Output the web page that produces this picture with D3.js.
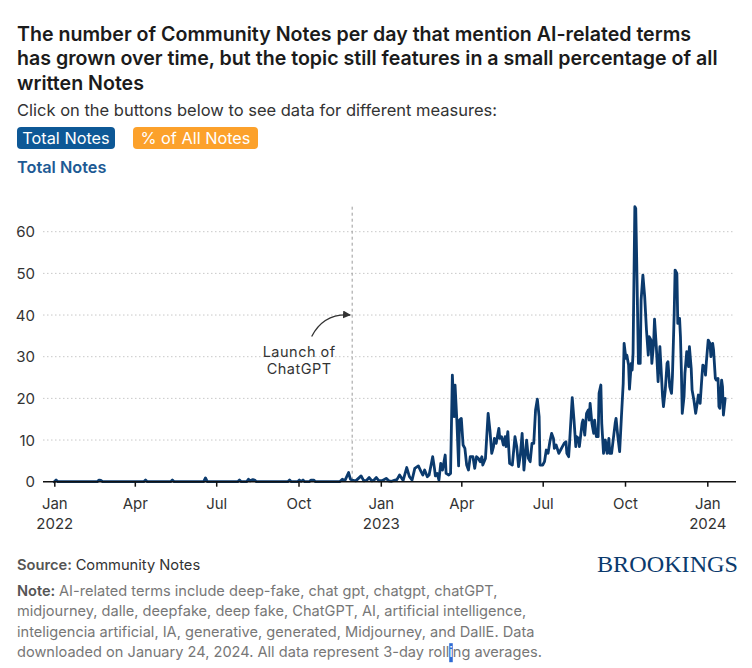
<!DOCTYPE html>
<html>
<head>
<meta charset="utf-8">
<script src="https://cdn.jsdelivr.net/npm/d3@7"></script>
<style>
  html, body { margin: 0; padding: 0; background: #fff; }
  svg { display: block; font-family: Inter, "Noto Sans", sans-serif; }
</style>
</head>
<body>
<svg id="chart" width="752" height="668"></svg>
<script>
// ---------------- DATA ----------------
const titleLines = [
  "The number of Community Notes per day that mention AI-related terms",
  "has grown over time, but the topic still features in a small percentage of all",
  "written Notes"
];
const subtitle = "Click on the buttons below to see data for different measures:";
const buttons = ["Total Notes", "% of All Notes"];
const measureLabel = "Total Notes";
const yTicks = [0, 10, 20, 30, 40, 50, 60];
const xTicks = ["2022-01-01","2022-04-01","2022-07-01","2022-10-01","2023-01-01","2023-04-01","2023-07-01","2023-10-01","2024-01-01"];
const monthNames = ["Jan","Feb","Mar","Apr","May","Jun","Jul","Aug","Sep","Oct","Nov","Dec"];
const annotationDate = "2022-11-30";
const annotationText = ["Launch of", "ChatGPT"];
const sourceText = "Community Notes";
const noteLines = [
  "AI-related terms include deep-fake, chat gpt, chatgpt, chatGPT,",
  "midjourney, dalle, deepfake, deep fake, ChatGPT, AI, artificial intelligence,",
  "inteligencia artificial, IA, generative, generated, Midjourney, and DallE. Data",
  "downloaded on January 24, 2024. All data represent 3-day rolling averages."
];
// Total AI-related notes per day (3-day rolling average)
const totalNotes = [
["2022-01-01",0],["2022-01-03",0.4],["2022-01-05",0],["2022-02-18",0],["2022-02-20",0.4],["2022-02-22",0.3],["2022-02-24",0],
["2022-04-11",0],["2022-04-13",0.4],["2022-04-15",0],["2022-05-11",0],["2022-05-13",0.4],["2022-05-15",0],
["2022-06-17",0],["2022-06-19",0.9],["2022-06-21",0],["2022-07-25",0],["2022-07-27",0.4],["2022-07-29",0],
["2022-08-04",0],["2022-08-06",0.6],["2022-08-08",0.2],["2022-08-11",0.5],["2022-08-13",0.4],["2022-08-15",0],
["2022-09-19",0],["2022-09-21",0.4],["2022-09-23",0],["2022-09-30",0],["2022-10-02",0.4],["2022-10-04",0.1],["2022-10-06",0.4],["2022-10-08",0],
["2022-10-13",0],["2022-10-15",0.4],["2022-10-18",0.4],["2022-10-20",0],
["2022-11-16",0],["2022-11-19",0.6],["2022-11-22",0.3],["2022-11-26",2.2],["2022-11-28",0.6],["2022-12-01",0.3],["2022-12-04",0.2],
["2022-12-10",1.4],["2022-12-13",0.2],["2022-12-16",0.3],["2022-12-19",1.0],["2022-12-22",0.2],["2022-12-24",0.3],["2022-12-27",1.0],["2022-12-30",0.2],
["2023-01-03",0.3],["2023-01-07",0.8],["2023-01-10",0.2],["2023-01-13",0.1],["2023-01-16",0.3],["2023-01-19",0.5],["2023-01-22",1.6],["2023-01-26",0.3],
["2023-01-30",3.4],["2023-02-02",1.2],["2023-02-05",0.4],["2023-02-08",3.2],["2023-02-12",3.8],["2023-02-15",2.4],["2023-02-17",1.6],["2023-02-19",2.8],
["2023-02-22",1.2],["2023-02-24",1.6],["2023-02-28",6.0],["2023-03-02",3.2],["2023-03-03",1.4],["2023-03-05",2.0],["2023-03-07",0.4],["2023-03-09",4.4],
["2023-03-11",2.8],["2023-03-14",6.4],["2023-03-15",2.0],["2023-03-18",1.6],["2023-03-20",2.0],["2023-03-22",25.6],["2023-03-24",15.6],["2023-03-25",23.2],
["2023-03-27",14.8],["2023-03-29",3.8],["2023-03-30",14.8],["2023-04-01",15.2],["2023-04-03",8.8],["2023-04-05",8.0],["2023-04-07",4.0],["2023-04-09",2.8],
["2023-04-11",6.0],["2023-04-14",6.0],["2023-04-16",3.2],["2023-04-18",6.0],["2023-04-20",5.6],["2023-04-22",4.8],["2023-04-24",6.0],["2023-04-25",4.0],
["2023-04-28",5.6],["2023-04-29",9.2],["2023-05-01",16.4],["2023-05-03",12.4],["2023-05-05",6.8],["2023-05-07",8.4],["2023-05-08",10.4],["2023-05-10",9.2],
["2023-05-13",12.8],["2023-05-14",10.4],["2023-05-16",10.8],["2023-05-18",8.8],["2023-05-20",10.8],["2023-05-21",8.4],["2023-05-23",12.0],["2023-05-25",4.4],
["2023-05-28",4.0],["2023-05-31",10.8],["2023-06-02",8.4],["2023-06-04",3.6],["2023-06-06",6.4],["2023-06-08",11.6],["2023-06-10",2.8],["2023-06-13",10.0],
["2023-06-15",5.6],["2023-06-17",4.8],["2023-06-19",9.2],["2023-06-21",9.2],["2023-06-23",17.2],["2023-06-25",19.8],["2023-06-27",15.6],["2023-06-28",4.0],
["2023-07-01",4.0],["2023-07-03",4.8],["2023-07-05",7.6],["2023-07-07",6.8],["2023-07-09",9.6],["2023-07-11",11.6],["2023-07-13",10.4],["2023-07-14",8.0],
["2023-07-16",8.8],["2023-07-19",6.8],["2023-07-21",7.6],["2023-07-23",8.4],["2023-07-25",9.2],["2023-07-27",9.6],["2023-07-28",6.8],["2023-07-30",6.0],
["2023-07-31",9.2],["2023-08-03",20.2],["2023-08-05",14.8],["2023-08-07",8.4],["2023-08-08",10.8],["2023-08-10",10.4],["2023-08-11",8.4],["2023-08-14",14.0],
["2023-08-15",14.8],["2023-08-17",11.2],["2023-08-19",16.4],["2023-08-21",17.2],["2023-08-22",14.8],["2023-08-23",18.8],["2023-08-25",14.0],["2023-08-27",11.6],
["2023-08-28",14.8],["2023-08-30",10.8],["2023-09-01",10.8],["2023-09-02",21.2],["2023-09-04",23.2],["2023-09-05",14.0],["2023-09-07",6.8],["2023-09-09",10.0],
["2023-09-11",6.8],["2023-09-13",10.4],["2023-09-14",6.8],["2023-09-16",6.8],["2023-09-18",10.4],["2023-09-20",14.0],["2023-09-21",15.2],["2023-09-23",10.8],
["2023-09-25",7.2],["2023-09-27",15.6],["2023-09-29",23.6],["2023-09-30",33.2],["2023-10-02",29.6],["2023-10-03",30.4],["2023-10-05",28.0],["2023-10-06",22.2],
["2023-10-08",28.4],["2023-10-09",26.8],["2023-10-10",30.8],["2023-10-12",66.0],["2023-10-13",65.6],["2023-10-14",54.0],["2023-10-16",28.4],["2023-10-18",28.4],
["2023-10-19",43.6],["2023-10-21",49.6],["2023-10-23",44.4],["2023-10-25",36.4],["2023-10-27",30.4],["2023-10-28",34.8],["2023-10-30",34.0],["2023-10-31",28.4],
["2023-11-02",33.2],["2023-11-03",39.0],["2023-11-05",32.4],["2023-11-07",24.0],["2023-11-09",32.4],["2023-11-10",28.4],["2023-11-12",20.4],["2023-11-13",18.0],
["2023-11-15",22.0],["2023-11-17",28.4],["2023-11-18",28.8],["2023-11-20",22.8],["2023-11-22",21.2],["2023-11-23",25.2],["2023-11-25",40.4],["2023-11-26",50.8],
["2023-11-28",50.0],["2023-11-29",38.0],["2023-12-01",39.2],["2023-12-02",34.8],["2023-12-03",26.8],["2023-12-04",16.4],["2023-12-06",20.4],["2023-12-07",26.0],
["2023-12-09",31.2],["2023-12-11",27.6],["2023-12-12",32.4],["2023-12-14",27.2],["2023-12-15",22.0],["2023-12-17",19.6],["2023-12-19",16.4],["2023-12-21",19.2],
["2023-12-22",20.8],["2023-12-24",18.8],["2023-12-26",25.2],["2023-12-27",28.0],["2023-12-29",27.6],["2023-12-30",25.6],["2023-12-31",28.8],["2024-01-02",34.0],
["2024-01-04",33.2],["2024-01-05",30.0],["2024-01-07",33.2],["2024-01-08",31.6],["2024-01-10",24.8],["2024-01-11",24.4],["2024-01-13",24.8],["2024-01-14",18.0],
["2024-01-15",17.6],["2024-01-17",24.4],["2024-01-18",22.8],["2024-01-19",16.0],["2024-01-21",20.0]
];

// ---------------- RENDER ----------------
const svg = d3.select("#chart");
const parse = d3.utcParse("%Y-%m-%d");
const data = totalNotes.map(([d, v]) => ({ date: parse(d), value: v }));

// Header
svg.append("g").selectAll("text").data(titleLines).join("text")
  .attr("x", 17).attr("y", (d, i) => 40.5 + i * 24.5)
  .attr("font-size", 19.6).attr("font-weight", 600).attr("fill", "#1b1b1b")
  .text(d => d);

svg.append("text").attr("x", 17).attr("y", 116)
  .attr("font-size", 16.5).attr("fill", "#333").text(subtitle);

const btnColors = ["#0d5896", "#fca12b"];
const btnX = [17, 133], btnW = [98, 125];
buttons.forEach((b, i) => {
  svg.append("rect").attr("x", btnX[i]).attr("y", 127).attr("width", btnW[i]).attr("height", 22)
    .attr("rx", 4).attr("fill", btnColors[i]);
  svg.append("text").attr("x", btnX[i] + btnW[i] / 2).attr("y", 144).attr("text-anchor", "middle")
    .attr("font-size", 16.3).attr("fill", "#fff").text(b);
});

svg.append("text").attr("x", 17).attr("y", 172.5)
  .attr("font-size", 16.3).attr("font-weight", 600).attr("fill", "#1d5a94").text(measureLabel);

// Scales
const x = d3.scaleUtc().domain([parse("2022-01-01"), parse("2024-01-01")]).range([54.3, 707.3]);
const y = d3.scaleLinear().domain([0, 66]).range([481.7, 206.7]);
const gridX0 = 43, gridX1 = 735;

// Gridlines
svg.append("g").selectAll("line").data(yTicks.filter(t => t > 0)).join("line")
  .attr("x1", gridX0).attr("x2", gridX1)
  .attr("y1", d => y(d)).attr("y2", d => y(d))
  .attr("stroke", "#c8c8c8").attr("stroke-width", 1).attr("stroke-dasharray", "1.5,2.5");

// Y axis labels
const yAxis = d3.axisLeft(y).tickValues(yTicks).tickSize(0).tickPadding(0);
const gy = svg.append("g").attr("transform", "translate(35,0)").call(yAxis);
gy.select(".domain").remove();
gy.selectAll("text").attr("font-size", 15).attr("fill", "#333").attr("font-family", "Inter, sans-serif").attr("dy", "0.35em");

// ChatGPT launch line
const ax = x(parse(annotationDate));
svg.append("line").attr("x1", ax).attr("x2", ax).attr("y1", y(66)).attr("y2", y(0))
  .attr("stroke", "#9a9a9a").attr("stroke-width", 1).attr("stroke-dasharray", "3,3");

// Data line
const line = d3.line().x(d => x(d.date)).y(d => y(d.value)).curve(d3.curveLinear);
svg.append("path").datum(data).attr("d", line)
  .attr("fill", "none").attr("stroke", "#0b3a6d").attr("stroke-width", 2.8)
  .attr("stroke-linejoin", "round").attr("stroke-linecap", "round");

// X axis
svg.append("line").attr("x1", gridX0).attr("x2", gridX1 + 1).attr("y1", y(0)).attr("y2", y(0))
  .attr("stroke", "#111").attr("stroke-width", 1.5);
const xAxis = d3.axisBottom(x).tickValues(xTicks.map(parse)).tickSize(5).tickPadding(6)
  .tickFormat(d => monthNames[d.getUTCMonth()]);
const gx = svg.append("g").attr("transform", `translate(0,${y(0)})`).call(xAxis);
gx.select(".domain").remove();
gx.selectAll(".tick line").attr("stroke", "#111").attr("stroke-width", 1.5);
gx.selectAll(".tick text").attr("font-size", 15).attr("fill", "#333").attr("font-family", "Inter, sans-serif")
  .attr("y", 27).attr("dy", 0)
  .each(function(d) {
    if (d.getUTCMonth() === 0) {
      d3.select(this).append("tspan").attr("x", 0).attr("dy", 20).text(d.getUTCFullYear());
    }
  });

// Annotation
const ann = svg.append("g");
ann.selectAll("text").data(annotationText).join("text")
  .attr("x", ax - 53).attr("y", (d, i) => 356.5 + i * 17.5).attr("text-anchor", "middle")
  .attr("font-size", 14.5).attr("letter-spacing", 0.5).attr("fill", "#333").text(d => d);
const x0 = ax - 40.5, y0 = 336.5, x1 = ax - 2, y1 = y(40);
svg.append("defs").append("marker").attr("id", "arr").attr("viewBox", "0 0 10 10")
  .attr("refX", 9).attr("refY", 5).attr("markerWidth", 8).attr("markerHeight", 8)
  .attr("orient", "auto").attr("markerUnits", "userSpaceOnUse")
  .append("path").attr("d", "M0,0 L10,5 L0,10 Z").attr("fill", "#333");
ann.append("path").attr("d", `M${x0},${y0} Q${x0 + 12},${y1 - 2} ${x1},${y1}`)
  .attr("fill", "none").attr("stroke", "#333").attr("stroke-width", 1.3).attr("marker-end", "url(#arr)");

// Footer
const src = svg.append("text").attr("x", 17).attr("y", 569.5).attr("font-size", 14.7);
src.append("tspan").attr("font-weight", 600).attr("fill", "#555").text("Source: ");
src.append("tspan").attr("fill", "#333").text(sourceText);

svg.append("text").attr("x", 738).attr("y", 572).attr("text-anchor", "end")
  .attr("font-family", "'Liberation Serif', 'DejaVu Serif', serif").attr("font-size", 23)
  .attr("fill", "#0b3a6d").attr("textLength", 141).attr("lengthAdjust", "spacingAndGlyphs").text("BROOKINGS");

const noteG = svg.append("g");
noteLines.forEach((ln, i) => {
  const t = noteG.append("text").attr("x", 17).attr("y", 596 + i * 20.4).attr("font-size", 14.6).attr("fill", "#777");
  if (i === 0) {
    t.append("tspan").attr("font-weight", 600).attr("fill", "#555").text("Note: ");
    t.append("tspan").text(ln);
  } else if (i === noteLines.length - 1) {
    const k = ln.indexOf("rolling") + 4;
    t.append("tspan").text(ln.slice(0, k));
    t.append("tspan").attr("fill", "#fff").text(ln[k]);
    t.append("tspan").text(ln.slice(k + 1));
    const node = t.node();
    const sx = node.getStartPositionOfChar(k).x;
    const ex = node.getEndPositionOfChar(k).x;
    noteG.insert("rect", "text").attr("x", sx).attr("y", 596 + i * 20.4 - 14).attr("width", ex - sx).attr("height", 19)
      .attr("fill", "#2f6bd3");
  } else {
    t.text(ln);
  }
});
</script>
</body>
</html>
